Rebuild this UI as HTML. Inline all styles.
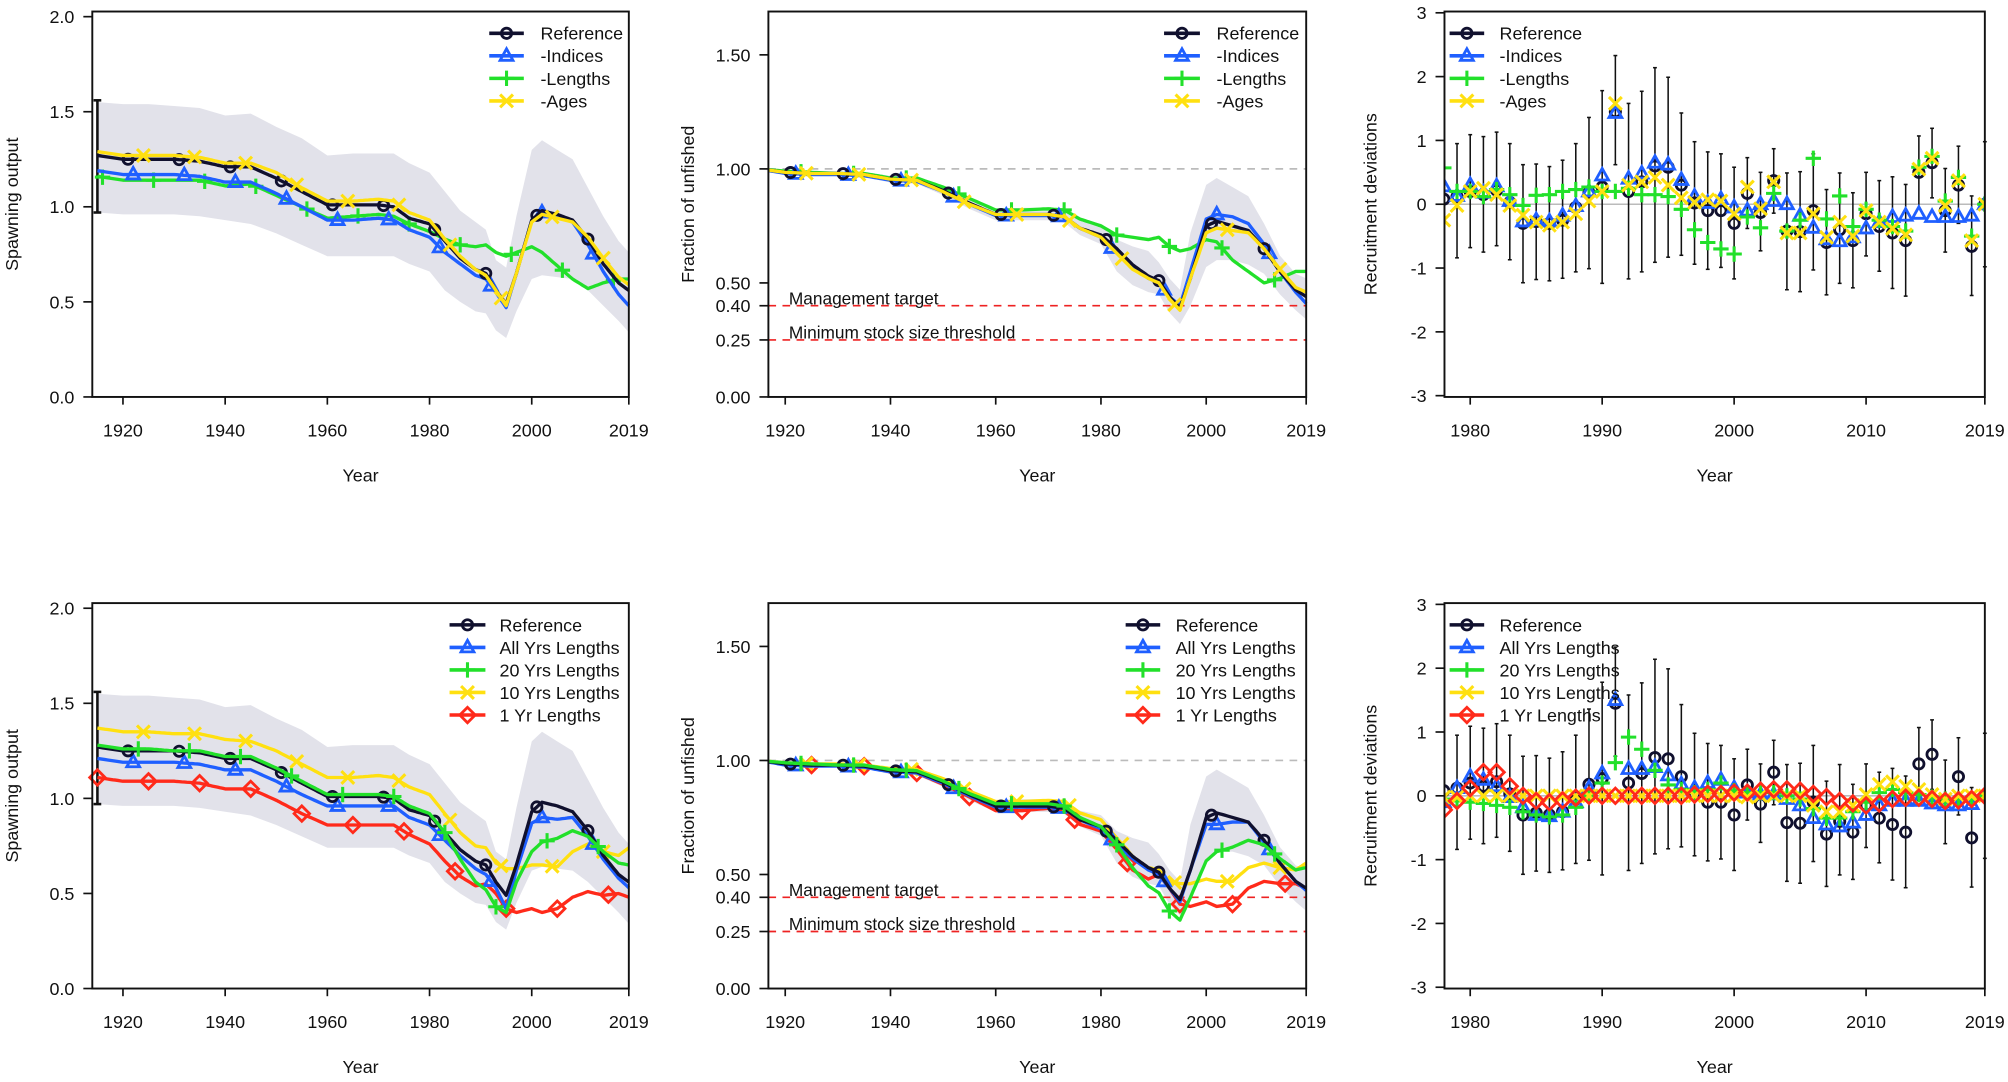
<!DOCTYPE html>
<html><head><meta charset="utf-8"><title>Sensitivity runs</title>
<style>html,body{margin:0;padding:0;background:#fff}svg{display:block}text{font-family:"Liberation Sans",Arial,sans-serif;fill:#111}</style>
</head><body>
<svg id="fig" xmlns="http://www.w3.org/2000/svg" width="2008" height="1082" viewBox="0 0 1568 845"></svg>
<script>
// ---------- data ----------
const years = [1915,1920,1925,1930,1935,1940,1945,1950,1955,1960,1965,1970,1973,1976,1980,1983,1986,1989,1991,1993,1995,1997,2000,2002,2005,2008,2011,2014,2017,2019];
// top-left spawning output
const ssbRef = [1.27,1.25,1.25,1.25,1.24,1.21,1.21,1.15,1.08,1.01,1.01,1.01,1.00,0.94,0.91,0.82,0.73,0.67,0.65,0.56,0.49,0.65,0.93,0.98,0.96,0.93,0.83,0.70,0.60,0.56];
const ssbIndices = [1.19,1.17,1.17,1.17,1.16,1.13,1.13,1.07,1.00,0.93,0.93,0.94,0.93,0.88,0.84,0.76,0.70,0.64,0.62,0.55,0.47,0.65,0.93,0.97,0.95,0.92,0.80,0.66,0.54,0.48];
const ssbLengths = [1.16,1.14,1.14,1.14,1.14,1.11,1.12,1.06,1.00,0.94,0.95,0.96,0.95,0.91,0.87,0.83,0.80,0.79,0.80,0.76,0.74,0.76,0.79,0.76,0.69,0.62,0.57,0.60,0.62,0.62];
const ssbAges = [1.29,1.27,1.27,1.27,1.26,1.23,1.23,1.18,1.10,1.03,1.03,1.04,1.03,0.97,0.93,0.83,0.74,0.67,0.64,0.56,0.48,0.65,0.92,0.96,0.94,0.92,0.84,0.73,0.63,0.59];
const ssbHi = [1.55,1.54,1.54,1.53,1.52,1.48,1.49,1.42,1.36,1.27,1.28,1.28,1.28,1.23,1.18,1.08,0.98,0.92,0.88,0.72,0.68,0.95,1.30,1.35,1.30,1.25,1.10,0.95,0.82,0.76];
const ssbLo = [0.97,0.96,0.96,0.96,0.95,0.93,0.91,0.86,0.80,0.74,0.74,0.74,0.74,0.70,0.66,0.56,0.50,0.45,0.44,0.35,0.31,0.45,0.62,0.64,0.63,0.62,0.56,0.48,0.40,0.34];
const ssbVirgin = [1915, 0.97, 1.56];
// bottom-left spawning output
const ssbAllYrs = [1.21,1.19,1.19,1.19,1.18,1.15,1.15,1.09,1.02,0.96,0.96,0.96,0.96,0.90,0.86,0.78,0.70,0.63,0.60,0.53,0.42,0.62,0.87,0.90,0.89,0.90,0.80,0.68,0.58,0.53];
const ssb20Yrs = [1.28,1.26,1.26,1.25,1.25,1.22,1.22,1.16,1.09,1.02,1.02,1.02,1.01,0.96,0.92,0.82,0.68,0.56,0.52,0.43,0.40,0.56,0.72,0.77,0.79,0.83,0.80,0.72,0.66,0.65];
const ssb10Yrs = [1.37,1.35,1.35,1.34,1.34,1.31,1.30,1.25,1.18,1.11,1.11,1.12,1.11,1.06,1.02,0.92,0.82,0.75,0.74,0.66,0.63,0.63,0.65,0.65,0.64,0.72,0.76,0.72,0.70,0.74];
const ssb1Yr = [1.11,1.09,1.09,1.09,1.08,1.05,1.05,0.99,0.92,0.86,0.86,0.86,0.86,0.81,0.76,0.67,0.59,0.54,0.55,0.50,0.42,0.40,0.42,0.40,0.42,0.48,0.51,0.49,0.50,0.48];
// fraction unfished
const depRef = [1.00,0.985,0.98,0.98,0.975,0.955,0.95,0.905,0.85,0.80,0.80,0.80,0.79,0.74,0.71,0.65,0.58,0.53,0.51,0.44,0.39,0.52,0.75,0.77,0.75,0.73,0.65,0.55,0.47,0.44];
const depIndices = [1.00,0.98,0.975,0.975,0.97,0.95,0.945,0.90,0.845,0.795,0.795,0.795,0.79,0.74,0.70,0.63,0.57,0.52,0.50,0.44,0.40,0.55,0.78,0.80,0.79,0.76,0.67,0.55,0.46,0.41];
const depLengths = [1.00,0.99,0.985,0.98,0.98,0.96,0.96,0.92,0.87,0.82,0.82,0.825,0.82,0.78,0.75,0.71,0.70,0.69,0.70,0.66,0.64,0.65,0.69,0.68,0.60,0.55,0.50,0.52,0.55,0.55];
const depAges = [1.00,0.985,0.98,0.98,0.975,0.955,0.95,0.90,0.845,0.80,0.80,0.80,0.79,0.74,0.70,0.63,0.56,0.52,0.50,0.43,0.38,0.52,0.72,0.74,0.73,0.72,0.65,0.56,0.48,0.46];
const depHi = [1.00,0.99,0.99,0.99,0.985,0.97,0.965,0.925,0.875,0.825,0.83,0.83,0.825,0.78,0.76,0.69,0.66,0.64,0.59,0.52,0.47,0.72,0.93,0.96,0.92,0.88,0.76,0.62,0.54,0.52];
const depLo = [1.00,0.98,0.97,0.97,0.965,0.94,0.935,0.885,0.825,0.775,0.775,0.775,0.765,0.71,0.67,0.55,0.49,0.46,0.45,0.37,0.32,0.40,0.57,0.60,0.60,0.58,0.54,0.45,0.38,0.34];
const depAllYrs = [1.00,0.98,0.975,0.975,0.97,0.95,0.945,0.90,0.845,0.795,0.795,0.795,0.79,0.74,0.70,0.63,0.57,0.52,0.50,0.44,0.38,0.52,0.72,0.72,0.73,0.73,0.64,0.55,0.47,0.43];
const dep20Yrs = [1.00,0.99,0.985,0.98,0.98,0.96,0.955,0.91,0.855,0.81,0.81,0.81,0.80,0.75,0.71,0.63,0.53,0.45,0.42,0.34,0.30,0.40,0.56,0.60,0.62,0.65,0.63,0.57,0.52,0.53];
const dep10Yrs = [1.00,0.99,0.985,0.985,0.98,0.965,0.96,0.92,0.865,0.82,0.82,0.825,0.82,0.77,0.74,0.66,0.58,0.53,0.52,0.47,0.46,0.46,0.48,0.47,0.47,0.53,0.55,0.53,0.52,0.55];
const dep1Yr = [1.00,0.985,0.98,0.98,0.975,0.95,0.945,0.895,0.84,0.78,0.78,0.79,0.78,0.72,0.69,0.61,0.52,0.48,0.50,0.44,0.37,0.36,0.38,0.36,0.37,0.44,0.47,0.46,0.46,0.44];
// recruitment deviations
const recYears = [1978,1979,1980,1981,1982,1983,1984,1985,1986,1987,1988,1989,1990,1991,1992,1993,1994,1995,1996,1997,1998,1999,2000,2001,2002,2003,2004,2005,2006,2007,2008,2009,2010,2011,2012,2013,2014,2015,2016,2017,2018,2019];
const recRef = [0.08,0.12,0.2,0.15,0.22,0.03,-0.3,-0.27,-0.3,-0.25,-0.05,0.18,0.27,1.45,0.2,0.35,0.6,0.58,0.3,0.02,-0.1,-0.1,-0.3,0.17,-0.13,0.37,-0.42,-0.43,-0.1,-0.6,-0.4,-0.57,-0.15,-0.35,-0.45,-0.57,0.5,0.65,-0.1,0.3,-0.66,0.0];
const recHi = [0.9,0.95,1.09,1.06,1.13,0.95,0.62,0.63,0.59,0.69,0.95,1.36,1.78,2.33,1.58,1.77,2.14,1.99,1.43,0.98,0.82,0.79,0.58,0.73,0.5,0.87,0.49,0.51,0.79,0.23,0.49,0.18,0.5,0.37,0.43,0.31,1.07,1.19,0.56,0.91,0.13,0.98];
const recLo = [-0.8,-0.84,-0.68,-0.75,-0.65,-0.87,-1.23,-1.18,-1.2,-1.16,-1.06,-1.01,-1.24,0.62,-1.17,-1.06,-0.91,-0.83,-0.8,-0.94,-1.02,-0.99,-1.17,-0.38,-0.73,-0.14,-1.34,-1.37,-1.03,-1.42,-1.24,-1.31,-0.81,-1.05,-1.32,-1.44,-0.07,0.1,-0.75,-0.3,-1.43,-0.98];
const recIndices = [0.28,0.13,0.3,0.18,0.28,0.05,-0.27,-0.25,-0.27,-0.18,-0.03,0.2,0.45,1.43,0.4,0.48,0.65,0.62,0.38,0.12,0.02,0.08,-0.05,-0.1,0.0,0.05,0.0,-0.18,-0.37,-0.55,-0.58,-0.52,-0.38,-0.28,-0.2,-0.18,-0.15,-0.2,-0.2,-0.2,-0.18,0.0];
const recLengths = [0.57,0.2,0.2,0.12,0.23,0.15,-0.02,0.14,0.15,0.2,0.23,0.27,0.2,0.2,0.25,0.15,0.15,0.12,-0.08,-0.4,-0.6,-0.7,-0.78,-0.2,-0.37,0.17,-0.42,-0.25,0.72,-0.23,0.13,-0.35,-0.08,-0.25,-0.35,-0.42,0.58,0.75,0.05,0.42,-0.5,0.0];
const recAges = [-0.25,-0.02,0.2,0.25,0.15,-0.02,-0.17,-0.28,-0.33,-0.28,-0.15,0.05,0.2,1.58,0.3,0.35,0.42,0.3,0.1,0.03,0.07,0.05,-0.15,0.27,-0.07,0.35,-0.45,-0.45,-0.15,-0.52,-0.28,-0.5,-0.1,-0.28,-0.38,-0.48,0.55,0.72,-0.02,0.37,-0.57,0.0];
const recAllYrs = [-0.1,0.12,0.3,0.25,0.15,-0.02,-0.18,-0.3,-0.32,-0.25,-0.1,0.12,0.35,1.5,0.42,0.42,0.45,0.32,0.18,0.12,0.2,0.25,0.12,0.05,0.02,0.02,-0.05,-0.15,-0.35,-0.45,-0.48,-0.42,-0.3,-0.15,-0.08,-0.08,-0.08,-0.12,-0.15,-0.15,-0.13,0.0];
const rec20Yrs = [-0.05,-0.08,-0.1,-0.12,-0.15,-0.18,-0.25,-0.3,-0.33,-0.3,-0.18,0.0,0.2,0.52,0.92,0.73,0.4,0.17,0.1,0.05,0.1,0.2,0.08,0.05,0.05,0.05,0.0,-0.05,-0.2,-0.35,-0.35,-0.25,-0.1,0.05,0.1,0.05,0.02,-0.02,-0.05,-0.05,-0.05,0.0];
const rec10Yrs = [-0.02,-0.02,0,0,0,0,0,0,0,0,0,0,0,0,0,0,0,0,0,0,0,0,0,-0.02,0,0,0,0,-0.15,-0.25,-0.25,-0.15,0.02,0.18,0.22,0.15,0.1,0.02,-0.05,0,0,0];
const rec1Yr = [-0.22,-0.08,0.12,0.37,0.37,0.15,0,-0.08,-0.1,-0.07,-0.03,0,0,0,0,0,0,0,0,0.02,0.03,0.03,0.05,0.05,0.08,0.1,0.1,0.08,0.03,-0.02,-0.08,-0.12,-0.15,-0.12,-0.05,-0.03,-0.03,-0.05,-0.08,-0.07,-0.05,0.0];
const xTicksLong = [1920,1940,1960,1980,2000,2019];
const xTicksRec = [1980,1990,2000,2010,2019];
const yTicksSsb = ["0.0","0.5","1.0","1.5","2.0"];
const yTicksDep = ["0.00","0.25","0.40","0.50","1.00","1.50"];
const yTicksRec = ["-3","-2","-1","0","1","2","3"];
const legendTop = ["Reference","-Indices","-Lengths","-Ages"];
const legendBottom = ["Reference","All Yrs Lengths","20 Yrs Lengths","10 Yrs Lengths","1 Yr Lengths"];

// ---------- drawing ----------
const NS="http://www.w3.org/2000/svg";
const svg=document.getElementById('fig');
const COL={ref:'#10102e',blue:'#1f5fff',green:'#22e02a',yellow:'#ffe010',red:'#ff2a1a'};
function el(tag,attrs,parent){const e=document.createElementNS(NS,tag);for(const k in attrs)e.setAttribute(k,attrs[k]);(parent||svg).appendChild(e);return e;}
function interp(xs,ys,x){for(let i=0;i<xs.length-1;i++){if(x>=xs[i]&&x<=xs[i+1]){const t=(x-xs[i])/(xs[i+1]-xs[i]);return ys[i]+t*(ys[i+1]-ys[i]);}}return x<xs[0]?ys[0]:ys[ys.length-1];}
function marker(g,shape,cx,cy,color){
  let m;
  if(shape==='circle'){m=el('circle',{cx:cx,cy:cy,r:4,fill:'none',stroke:color,'stroke-width':2.2},g);}
  else if(shape==='tri'){m=el('path',{d:`M${cx},${cy-5.5}L${cx+5},${cy+3.5}L${cx-5},${cy+3.5}Z`,fill:'none',stroke:color,'stroke-width':2.2},g);}
  else if(shape==='plus'){m=el('path',{d:`M${cx-6},${cy}H${cx+6}M${cx},${cy-6}V${cy+6}`,stroke:color,'stroke-width':2.4},g);}
  else if(shape==='x'){m=el('path',{d:`M${cx-5},${cy-5}L${cx+5},${cy+5}M${cx-5},${cy+5}L${cx+5},${cy-5}`,stroke:color,'stroke-width':2.4},g);}
  else {m=el('path',{d:`M${cx},${cy-6}L${cx+6},${cy}L${cx},${cy+6}L${cx-6},${cy}Z`,fill:'none',stroke:color,'stroke-width':2.2},g);}
  
  
  return m;
}
function makePanel(name,box,xr,yr){
  const g=el('g',{});
  
  
  const sx=v=>box.x0+(v-xr[0])/(xr[1]-xr[0])*(box.x1-box.x0);
  const sy=v=>box.y1-(v-yr[0])/(yr[1]-yr[0])*(box.y1-box.y0);
  return {g,sx,sy,box};
}
function axes(P,xt,yt,ylabel,isRec){
  const {g,sx,sy,box}=P;
  const fr=el('rect',{x:box.x0,y:box.y0,width:box.x1-box.x0,height:box.y1-box.y0,fill:'none',stroke:'#111','stroke-width':1.5},g);
  
  
  const xa=el('g',{},g);
  
  
  xt.forEach(v=>{const x=sx(v);el('line',{x1:x,x2:x,y1:box.y1,y2:box.y1+6,stroke:'#111','stroke-width':1.3},xa);
    const t=el('text',{x:x,y:box.y1+31,'text-anchor':'middle','font-size':14},xa);t.textContent=v;
    
    });
  const xl=el('text',{x:(box.x0+box.x1)/2,y:box.y1+66,'text-anchor':'middle','font-size':14},g);xl.textContent='Year';
  
  
  const ya=el('g',{},g);
  
  
  yt.forEach(s=>{const y=sy(parseFloat(s));el('line',{x1:box.x0-7,x2:box.x0,y1:y,y2:y,stroke:'#111','stroke-width':1.3},ya);
    const t=el('text',{x:box.x0-14,y:y+5,'text-anchor':'end','font-size':14},ya);t.textContent=s;
    
    });
  const lx=box.x0-(isRec?53:58), ly=(box.y0+box.y1)/2;
  const yl=el('text',{x:lx,y:ly,'text-anchor':'middle','font-size':14,transform:`rotate(-90 ${lx} ${ly})`},g);yl.textContent=ylabel;
  
  
}
function band(P,lo,hi){
  const {g,sx,sy}=P;let d='';
  years.forEach((y,i)=>{d+=(i?'L':'M')+sx(y).toFixed(1)+','+sy(hi[i]).toFixed(1);});
  for(let i=years.length-1;i>=0;i--)d+='L'+sx(years[i]).toFixed(1)+','+sy(lo[i]).toFixed(1);
  const p=el('path',{d:d+'Z',fill:'#e2e2ea',stroke:'none'},g);
  
  
}
function series(P,vals,color,shape,offset,name,xmin){
  const {g,sx,sy,box}=P;
  const sg=el('g',{},g);
  
  
  const pts=[];
  for(let yr=years[0];yr<=2019;yr+=0.5){if(sx(yr)<box.x0-0.5)continue;pts.push([sx(yr),sy(interp(years,vals,yr))]);}
  const p=el('polyline',{points:pts.map(q=>q[0].toFixed(1)+','+q[1].toFixed(1)).join(' '),fill:'none',stroke:color,'stroke-width':2.6,'stroke-linejoin':'round'},sg);
  
  
  for(let yr=xmin+offset;yr<=2019;yr+=10){
    if(yr<years[0]||sx(yr)<box.x0)continue;
    marker(sg,shape,sx(yr),sy(interp(years,vals,yr)),color);
  }
}
function legend(P,items,x0,x1,tx,y0,cols,shapes){
  const lg=el('g',{},P.g);
  
  
  items.forEach((s,i)=>{const y=y0+i*17.6;const e=el('g',{},lg);
    
    
    el('line',{x1:x0,x2:x1,y1:y,y2:y,stroke:cols[i],'stroke-width':2.8},e);
    marker(e,shapes[i],(x0+x1)/2,y,cols[i]);
    const t=el('text',{x:tx,y:y+5,'font-size':14},e);t.textContent=s;});
}
function refLines(P){
  const {g,sx,sy,box}=P;
  const l1=el('line',{x1:box.x0,x2:box.x1,y1:sy(1),y2:sy(1),stroke:'#bbb','stroke-width':1.3,'stroke-dasharray':'6,5'},g);
  
  
  [[0.4,'Management target','management-target'],[0.25,'Minimum stock size threshold','min-stock-threshold']].forEach(a=>{
    const l=el('line',{x1:box.x0,x2:box.x1,y1:sy(a[0]),y2:sy(a[0]),stroke:'#ee2222','stroke-width':1.3,'stroke-dasharray':'6,5'},g);
    
    
    const t=el('text',{x:box.x0+16,y:sy(a[0])-1,'font-size':13.5},g);t.textContent=a[1];
    
    });
}
function recPanel(P,list){
  const {g,sx,sy,box}=P;
  const z=el('line',{x1:box.x0,x2:box.x1,y1:sy(0),y2:sy(0),stroke:'#bbb','stroke-width':1.2},g);
  
  
  const eb=el('g',{},g);
  
  
  recYears.forEach((yr,i)=>{const x=sx(yr);if(yr===1978)return;
    el('line',{x1:x,x2:x,y1:sy(recHi[i]),y2:sy(recLo[i]),stroke:'#111','stroke-width':1.2},eb);
    el('line',{x1:x-1.5,x2:x+1.5,y1:sy(recHi[i]),y2:sy(recHi[i]),stroke:'#111','stroke-width':1.2},eb);
    el('line',{x1:x-1.5,x2:x+1.5,y1:sy(recLo[i]),y2:sy(recLo[i]),stroke:'#111','stroke-width':1.2},eb);});
  const cp=el('clipPath',{id:'c'+Math.round(box.y0)},g);el('rect',{x:box.x0,y:box.y0,width:box.x1-box.x0,height:box.y1-box.y0},cp);
  list.forEach(s=>{const sg=el('g',{'clip-path':`url(#c${Math.round(box.y0)})`},g);
    
    
    recYears.forEach((yr,i)=>marker(sg,s[2],sx(yr),sy(s[0][i]),s[1]));});
}

[0,462].forEach((dy,row)=>{
  const top=row===0;
  // spawning output
  const P1=makePanel(top?'spawning-output-chart':'spawning-output-chart-lengths',{x0:72,x1:491,y0:9+dy,y1:310+dy},[1914,2019],[0,2.027]);
  band(P1,ssbLo,ssbHi);
  const vb=el('g',{},P1.g);
  
  
  const vx=P1.sx(ssbVirgin[0]);
  el('line',{x1:vx,x2:vx,y1:P1.sy(ssbVirgin[1]),y2:P1.sy(ssbVirgin[2]),stroke:'#111','stroke-width':2},vb);
  el('line',{x1:vx-3,x2:vx+3,y1:P1.sy(ssbVirgin[1]),y2:P1.sy(ssbVirgin[1]),stroke:'#111','stroke-width':2},vb);
  el('line',{x1:vx-3,x2:vx+3,y1:P1.sy(ssbVirgin[2]),y2:P1.sy(ssbVirgin[2]),stroke:'#111','stroke-width':2},vb);
  if(top){
    series(P1,ssbLengths,COL.green,'plus',3,'series-lengths',1913);
    series(P1,ssbIndices,COL.blue,'tri',1,'series-indices',1921);
    series(P1,ssbRef,COL.ref,'circle',0,'series-reference',1911);
    series(P1,ssbAges,COL.yellow,'x',3,'series-ages',1921);
    legend(P1,legendTop,382,409,422,26+dy,[COL.ref,COL.blue,COL.green,COL.yellow],['circle','tri','plus','x']);
  } else {
    series(P1,ssb1Yr,COL.red,'diamond',4,'series-1yr',1911);
    series(P1,ssb10Yrs,COL.yellow,'x',3,'series-10yrs',1911);
    series(P1,ssbAllYrs,COL.blue,'tri',1,'series-all-yrs',1921);
    series(P1,ssbRef,COL.ref,'circle',0,'series-reference',1911);
    series(P1,ssb20Yrs,COL.green,'plus',2,'series-20yrs',1911);
    legend(P1,legendBottom,351,379,390,488,[COL.ref,COL.blue,COL.green,COL.yellow,COL.red],['circle','tri','plus','x','diamond']);
  }
  axes(P1,xTicksLong,yTicksSsb,'Spawning output',false);
  // fraction unfished
  const P2=makePanel(top?'fraction-unfished-chart':'fraction-unfished-chart-lengths',{x0:600,x1:1020,y0:9+dy,y1:310+dy},[1916.8,2019],[0,1.69]);
  band(P2,depLo,depHi);
  refLines(P2);
  if(top){
    series(P2,depLengths,COL.green,'plus',2,'series-lengths',1921);
    series(P2,depIndices,COL.blue,'tri',1,'series-indices',1921);
    series(P2,depRef,COL.ref,'circle',0,'series-reference',1921);
    series(P2,depAges,COL.yellow,'x',3,'series-ages',1921);
    legend(P2,legendTop,909,937,950,26+dy,[COL.ref,COL.blue,COL.green,COL.yellow],['circle','tri','plus','x']);
  } else {
    series(P2,dep1Yr,COL.red,'diamond',4,'series-1yr',1921);
    series(P2,dep10Yrs,COL.yellow,'x',3,'series-10yrs',1921);
    series(P2,depAllYrs,COL.blue,'tri',1,'series-all-yrs',1921);
    series(P2,depRef,COL.ref,'circle',0,'series-reference',1921);
    series(P2,dep20Yrs,COL.green,'plus',2,'series-20yrs',1921);
    legend(P2,legendBottom,879,906,918,488,[COL.ref,COL.blue,COL.green,COL.yellow,COL.red],['circle','tri','plus','x','diamond']);
  }
  axes(P2,xTicksLong,yTicksDep,'Fraction of unfished',false);
  // recruitment deviations
  const P3=makePanel(top?'recruitment-deviations-chart':'recruitment-deviations-chart-lengths',{x0:1128,x1:1550,y0:9+dy,y1:310+dy},[1978.05,2019],[-3.02,3.02]);
  if(top){
    recPanel(P3,[[recRef,COL.ref,'circle','series-reference'],[recIndices,COL.blue,'tri','series-indices'],[recLengths,COL.green,'plus','series-lengths'],[recAges,COL.yellow,'x','series-ages']]);
    legend(P3,legendTop,1132,1159,1171,26+dy,[COL.ref,COL.blue,COL.green,COL.yellow],['circle','tri','plus','x']);
  } else {
    recPanel(P3,[[recRef,COL.ref,'circle','series-reference'],[recAllYrs,COL.blue,'tri','series-all-yrs'],[rec20Yrs,COL.green,'plus','series-20yrs'],[rec10Yrs,COL.yellow,'x','series-10yrs'],[rec1Yr,COL.red,'diamond','series-1yr']]);
    legend(P3,legendBottom,1132,1159,1171,488,[COL.ref,COL.blue,COL.green,COL.yellow,COL.red],['circle','tri','plus','x','diamond']);
  }
  axes(P3,xTicksRec,yTicksRec,'Recruitment deviations',true);
});
</script>
</body></html>
